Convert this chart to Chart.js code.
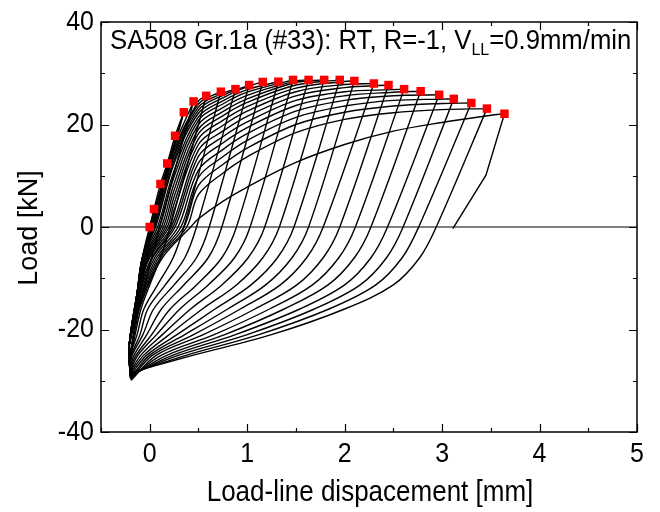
<!DOCTYPE html>
<html><head><meta charset="utf-8">
<script src="https://cdn.jsdelivr.net/npm/chart.js@4.4.0/dist/chart.umd.min.js"></script>
<style>html,body{margin:0;padding:0;background:#fff}#wrap{width:660px;height:512px}</style>
</head><body><div id="wrap"><canvas id="c" width="660" height="512"></canvas></div>
<script>
// ---- cycle peaks (red squares) ----
const peakX=[0,0.044,0.11,0.18,0.26,0.35,0.45,0.58,0.73,0.88,1.02,1.16,1.32,1.47,1.63,1.79,1.95,2.10,2.30,2.45,2.61,2.78,2.97,3.12,3.30,3.46,3.64];
const peakY=[0,3.5,8.4,12.4,17.8,22.4,24.5,25.6,26.4,26.9,27.7,28.3,28.35,28.7,28.7,28.7,28.7,28.5,28.0,27.7,26.9,26.5,25.8,25.0,24.2,23.1,22.1];
// ---- loops (cycles 6..27, i.e. peak index 5..26) ----
const minX=[-0.20,-0.20,-0.20,-0.20,-0.20,-0.20,-0.20,-0.20,-0.20,-0.20,-0.20,-0.20,-0.19,-0.19,-0.19,-0.20,-0.20,-0.20,-0.20,-0.20,-0.20,-0.20];
const minY=[-24.5,-25,-25.5,-26,-26.5,-27,-27.3,-27.6,-28,-28.3,-28.6,-29,-29.3,-29.6,-29.9,-29.5,-29.2,-29,-28.8,-28.6,-28.4,-28.2];
// loading branch: x at load -13, -6, 0
const loadXm13=[-0.13,-0.13,-0.13,-0.13,-0.13,-0.13,-0.13,-0.13,-0.13,-0.13,-0.12,-0.12,-0.12,-0.12,-0.12,-0.11,-0.10,-0.09,-0.08,-0.07,-0.06,-0.05];
const loadXm6=[-0.075,-0.075,-0.075,-0.075,-0.075,-0.075,-0.075,-0.07,-0.06,-0.05,-0.04,-0.03,-0.02,-0.01,0.0,0.02,0.03,0.05,0.07,0.09,0.11,0.13];
const loadX0=[0.00,0.01,0.02,0.03,0.04,0.05,0.06,0.08,0.10,0.12,0.14,0.16,0.18,0.20,0.22,0.24,0.26,0.29,0.32,0.35,0.38,0.42];
// loading arcs: load at these displacements
const arcX=[0.25,0.5,0.75,1.0,1.5,2.0,2.5,3.0,3.5];
const arcY=[
 [16.3],
 [15.6],
 [15.0,24.6],
 [14.3,24.0],
 [13.7,23.4,26.1],
 [13.0,22.8,25.7],
 [12.4,22.2,25.2,27.4],
 [11.0,21.5,24.6,26.8],
 [9.8,20.8,24.0,26.3],
 [8.5,20.0,23.3,25.7,28.5],
 [7.2,19.1,22.5,25.0,28.2],
 [5.9,18.2,21.7,24.3,27.7],
 [4.6,17.2,20.8,23.5,27.1,28.4],
 [3.3,16.1,19.8,22.6,26.4,27.8],
 [2.0,15.0,18.7,21.6,25.6,27.2],
 [null,13.8,17.6,20.5,24.7,26.4,26.8],
 [null,12.5,16.4,19.4,23.7,25.6,26.3],
 [null,11.1,15.1,18.2,22.6,24.7,25.6],
 [null,9.7,13.7,16.9,21.4,23.6,24.7,24.95],
 [null,8.1,12.2,15.4,20.0,22.4,23.6,24.1],
 [null,6.3,10.5,13.7,18.4,21.0,22.3,22.9],
 [null,1.6,5.0,7.8,12.6,16.1,18.7,20.4,21.8]
];
// unloading branch: x at load 0, -6, -11.3, -16, -21, -25
const unloadLevels=[0,-6,-11.3,-16,-21,-25];
const unloadX0=[0.03,0.10,0.21,0.35,0.48,0.61,0.74,0.89,1.03,1.18,1.33,1.48,1.63,1.78,1.95,2.11,2.27,2.44,2.60,2.76,2.94,3.11];
const unloadXm6=[-0.03,0.02,0.11,0.24,0.36,0.48,0.60,0.74,0.87,1.01,1.16,1.31,1.46,1.61,1.78,1.94,2.10,2.27,2.43,2.59,2.77,null];
const unloadXm11=[-0.08,-0.05,0.00,0.08,0.16,0.25,0.35,0.48,0.60,0.74,0.89,1.04,1.19,1.34,1.51,1.67,1.83,2.00,2.16,2.32,2.50,null];
const unloadXm16=[-0.12,-0.11,-0.09,-0.06,-0.02,0.04,0.12,0.21,0.31,0.42,0.54,0.67,0.80,0.93,1.08,1.23,1.38,1.54,1.69,1.84,2.00,null];
const unloadXm21=[-0.17,-0.16,-0.15,-0.13,-0.10,-0.07,-0.03,0.02,0.07,0.13,0.20,0.28,0.36,0.45,0.55,0.66,0.77,0.88,1.00,1.12,1.25,null];
const unloadXm25=[null,null,null,-0.20,-0.19,-0.18,-0.16,-0.14,-0.12,-0.09,-0.06,-0.03,0.00,0.03,0.07,0.12,0.18,0.24,0.30,0.38,0.45,null];
// last cycle final unloading (stops near zero load)
const finalX=[3.64,3.45,3.11];
const finalY=[22.1,10.1,-0.3];

const datasets=[];
datasets.push({data:peakX.map((x,i)=>({x,y:peakY[i]})),showLine:false,pointStyle:'rect',pointRadius:6,pointBackgroundColor:'#ff0000',pointBorderWidth:0,borderColor:'#ff0000'});
const lineStyle={showLine:true,pointRadius:0,borderColor:'#000',borderWidth:1.4,tension:0.35,fill:false};
// virgin loading
datasets.push(Object.assign({data:peakX.slice(0,6).map((x,i)=>({x,y:peakY[i]}))},lineStyle,{tension:0.2}));
for(let k=0;k<minY.length;k++){
  const p=k+5;
  const ld=[{x:minX[k],y:minY[k]},{x:-0.21,y:-23},{x:loadXm13[k],y:-13},{x:loadXm6[k],y:-6},{x:loadX0[k],y:0}];
  const row=arcY[k];
  for(let j=0;j<row.length;j++){ if(row[j]!==null && row[j]!==undefined && arcX[j]>loadX0[k]+0.03 && arcX[j]<peakX[p]-0.04) ld.push({x:arcX[j],y:row[j]}); }
  ld.push({x:peakX[p],y:peakY[p]});
  datasets.push(Object.assign({data:ld},lineStyle));
  const ud=[{x:peakX[p],y:peakY[p]}];
  if(unloadXm6[k]===null){
    for(let j=1;j<finalX.length;j++) ud.push({x:finalX[j],y:finalY[j]});
    datasets.push(Object.assign({data:ud},lineStyle,{tension:0}));
    continue;
  }
  const xs=[unloadX0[k],unloadXm6[k],unloadXm11[k],unloadXm16[k],unloadXm21[k],unloadXm25[k]];
  for(let j=0;j<xs.length;j++){ if(xs[j]!==null && unloadLevels[j]>minY[k]) ud.push({x:xs[j],y:unloadLevels[j]}); }
  ud.push({x:minX[k],y:minY[k]});
  datasets.push(Object.assign({data:ud},lineStyle));
}

const FONT='"Liberation Sans", Arial, sans-serif';
function txt(ctx,s,x,y,size,align,base,sy){
  ctx.save();ctx.translate(x,y);ctx.scale(1,sy||1);
  ctx.font=size+'px '+FONT;ctx.textAlign=align;ctx.textBaseline=base;ctx.fillStyle='#000';
  ctx.fillText(s,0,0);ctx.restore();
}
const frame={
  id:'frame',
  beforeDatasetsDraw(chart){
    const {ctx,chartArea:a,scales:{x,y}}=chart;
    const y0=y.getPixelForValue(0);
    ctx.save();ctx.strokeStyle='#555';ctx.lineWidth=1.4;
    ctx.beginPath();ctx.moveTo(a.left,y0);ctx.lineTo(a.right,y0);ctx.stroke();ctx.restore();
  },
  afterDraw(chart){
    const {ctx,chartArea:a,scales:{x,y}}=chart;
    ctx.save();
    ctx.strokeStyle='#000';ctx.lineWidth=1.5;
    ctx.strokeRect(a.left,a.top,a.right-a.left,a.bottom-a.top);
    ctx.lineWidth=1.2;
    ctx.beginPath();
    for(let v=-0.5;v<=5.001;v+=0.5){
      const px=Math.round(x.getPixelForValue(v))+0.5;
      const L=(Math.abs(v-Math.round(v))<1e-6)?8:4;
      ctx.moveTo(px,a.bottom);ctx.lineTo(px,a.bottom-L);
      ctx.moveTo(px,a.top);ctx.lineTo(px,a.top+L);
    }
    for(let v=-40;v<=40;v+=10){
      const py=Math.round(y.getPixelForValue(v))+0.5;
      const L=(v%20===0)?8:4;
      ctx.moveTo(a.left,py);ctx.lineTo(a.left+L,py);
      ctx.moveTo(a.right,py);ctx.lineTo(a.right-L,py);
    }
    ctx.stroke();
    for(let v=0;v<=5;v++) txt(ctx,String(v),x.getPixelForValue(v),454,25,'center','middle',1.12);
    for(let v=-40;v<=40;v+=20) txt(ctx,String(v),94,y.getPixelForValue(v),25,'right','middle',1.12);
    txt(ctx,'Load-line dispacement [mm]',370,493,26,'center','middle',1.1);
    ctx.save();ctx.translate(30,228);ctx.rotate(-Math.PI/2);
    txt(ctx,'Load [kN]',0,0,27,'center','middle',1.0);ctx.restore();
    // in-plot label with subscript
    ctx.save();
    let tx=110, ty=49;
    ctx.translate(0,ty);ctx.scale(1,1.08);
    ctx.fillStyle='#000';ctx.textBaseline='alphabetic';ctx.textAlign='left';
    ctx.font='25.7px '+FONT;
    const s1='SA508 Gr.1a (#33): RT, R=-1, V';
    ctx.fillText(s1,tx,0);tx+=ctx.measureText(s1).width;
    ctx.font='16px '+FONT;ctx.fillText('LL',tx,6);tx+=ctx.measureText('LL').width;
    ctx.font='25.7px '+FONT;ctx.fillText('=0.9mm/min',tx,0);
    ctx.restore();
    ctx.restore();
  }
};
new Chart(document.getElementById('c'),{
  type:'line',
  data:{datasets},
  options:{
    responsive:false,animation:false,devicePixelRatio:1,
    layout:{padding:{left:101,right:23,top:22,bottom:80}},
    plugins:{legend:{display:false},tooltip:{enabled:false}},
    scales:{
      x:{type:'linear',min:-0.5,max:5,display:false},
      y:{type:'linear',min:-40,max:40,display:false}
    }
  },
  plugins:[frame]
});
</script>
</body></html>
